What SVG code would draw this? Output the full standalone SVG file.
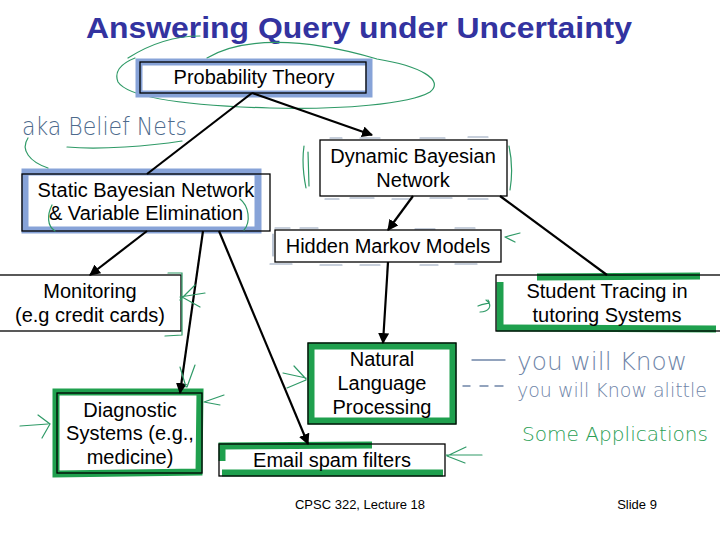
<svg xmlns="http://www.w3.org/2000/svg" width="720" height="540" viewBox="0 0 720 540">
<defs>
<marker id="ah" viewBox="0 0 10 10" refX="9" refY="5" markerWidth="5" markerHeight="5" orient="auto-start-reverse"><path d="M0,0 L10,5 L0,10 z" fill="#000"/></marker>
<style>
.box{fill:#fff;stroke:#000;stroke-width:1.3}
.t{font-family:"Liberation Sans",Arial,sans-serif;font-size:20px;fill:#000;text-anchor:middle}
.conn{stroke:#000;stroke-width:2.2;fill:none}
.blue{fill:none;stroke:#87a3d8;stroke-width:7}
.grn{fill:none;stroke:#1fa04e;stroke-width:7}
.ink{fill:none;stroke:#2f9a67;stroke-width:1.2;stroke-linecap:round}
.slate{fill:none;stroke:#6f85a8;stroke-width:1.4;stroke-linecap:round}
.dash{fill:none;stroke:#8fa0b8;stroke-width:1.2;stroke-linecap:round}
.hand{font-family:"DejaVu Sans",sans-serif;font-weight:200;font-size:24px}
.foot{font-family:"Liberation Sans",Arial,sans-serif;font-size:13px;fill:#000;text-anchor:middle}
</style>
</defs>
<rect width="720" height="540" fill="#fff"/>

<text x="359" y="38" font-family="Liberation Sans,Arial,sans-serif" font-weight="bold" font-size="30" fill="#3333a0" text-anchor="middle" textLength="546" lengthAdjust="spacingAndGlyphs">Answering Query under Uncertainty</text>

<!-- ink ellipse around Probability Theory -->
<path class="ink" d="M128,58 C150,44 175,36 200,36 M207,58 C240,38 300,36 377,59 C420,66 445,80 430,92 C410,104 340,110 270,108 C200,106 130,100 118,82 C114,72 120,64 135,58"/>

<g id="n-prob">
<rect class="blue" x="139" y="62" width="230" height="32"/>
<rect class="box" x="140" y="62" width="226" height="31" style="fill:none"/>
<text class="t" x="254" y="84">Probability Theory</text>
</g>

<g id="n-static">
<path class="blue" d="M25,172 L258,172 L258,230 L25,230 Z"/>
<rect class="box" x="22" y="174" width="248" height="57" style="fill:none"/>
<path class="ink" d="M52,205 C47,215 47,226 55,231 M240,199 C249,206 251,222 244,230"/>
<text class="t" x="146" y="197">Static Bayesian Network</text>
<text class="t" x="146" y="220">&amp; Variable Elimination</text>
</g>

<g id="n-dbn">
<path class="dash" d="M330,138 h12 M360,138 h20 M420,138 h25 M468,137 h20 M325,199 h14 M350,198 h24 M392,199 h20 M430,198 h22 M468,199 h20"/>
<path class="ink" d="M304,146 C302,160 304,178 306,188 M308,152 L309,186 M509,146 C512,160 512,178 510,190"/>
<rect class="box" x="320" y="140" width="187" height="56"/>
<text class="t" x="413" y="163">Dynamic Bayesian</text>
<text class="t" x="413" y="187">Network</text>
</g>

<g id="n-hmm">
<path class="dash" d="M275,228 h15 M300,228 h18 M415,229 h20 M455,228 h20 M270,264 h22 M320,265 h22 M360,265 h20 M420,265 h18 M455,264 h22 M273,234 v22"/>
<rect class="box" x="275" y="230" width="226" height="32"/>
<text class="t" x="388" y="253">Hidden Markov Models</text>
</g>

<g id="n-student">
<path class="grn" d="M500,282 L500,328 L716,329 M537,277 L700,276"/>
<rect class="box" x="496" y="275" width="226" height="56" style="fill:none"/>
<text class="t" x="607" y="298">Student Tracing in</text>
<text class="t" x="607" y="322">tutoring Systems</text>
</g>

<g id="n-monitor">
<rect class="box" x="-2" y="275" width="183" height="56"/>
<text class="t" x="90" y="298">Monitoring</text>
<text class="t" x="90" y="322">(e.g credit cards)</text>
</g>

<g id="n-diag">
<path class="grn" d="M56,392 L200,392 L199,472 L56,474 Z"/>
<rect class="box" x="57" y="393" width="145" height="80" style="fill:none"/>
<text class="t" x="130" y="417">Diagnostic</text>
<text class="t" x="130" y="440">Systems (e.g.,</text>
<text class="t" x="130" y="464">medicine)</text>
</g>

<g id="n-nlp">
<path class="grn" d="M311,346 L453,346 L453,421 L311,421 Z"/>
<rect class="box" x="308" y="343" width="148" height="81" style="fill:none"/>
<text class="t" x="382" y="366">Natural</text>
<text class="t" x="382" y="390">Language</text>
<text class="t" x="382" y="414">Processing</text>
</g>

<g id="n-email">
<path class="grn" d="M222,461 L222,446 L372,445 M222,473 L443,473"/>
<rect class="box" x="219" y="444" width="226" height="32" style="fill:none"/>
<text class="t" x="332" y="467">Email spam filters</text>
</g>

<g id="connectors">
<line class="conn" x1="252" y1="93" x2="147" y2="174"/>
<line class="conn" x1="252" y1="93" x2="372" y2="135" marker-end="url(#ah)"/>
<line class="conn" x1="413" y1="196" x2="388" y2="230" marker-end="url(#ah)"/>
<line class="conn" x1="500" y1="196" x2="607" y2="275"/>
<line class="conn" x1="147" y1="231" x2="90" y2="275" marker-end="url(#ah)"/>
<line class="conn" x1="203" y1="231" x2="180" y2="393" marker-end="url(#ah)"/>
<line class="conn" x1="219" y1="231" x2="308" y2="444" marker-end="url(#ah)"/>
<line class="conn" x1="388" y1="262" x2="383" y2="343" marker-end="url(#ah)"/>
</g>

<!-- handwritten annotations -->
<text class="hand" x="22" y="135" fill="#4d6a8c" textLength="165" lengthAdjust="spacingAndGlyphs">aka Belief Nets</text>
<path class="ink" d="M67,147 C100,150 150,146 182,141"/>
<path class="ink" d="M28,138 C20,150 30,162 48,168"/>

<path class="ink" d="M505,237 L520,233 M505,237 L515,242"/>
<path class="ink" d="M478,306 C486,302 492,305 488,300 M480,312 C488,312 494,306 486,300"/>
<path class="ink" d="M168,273 L182,273 L182,335 L165,336 M180,297 L205,293 M182,297 L200,307 M180,300 L195,285"/>
<path class="ink" d="M20,426 L48,424 M38,415 L50,424 L42,438"/>
<path class="ink" d="M180,367 L186,387 M195,365 L187,387 M204,402 L224,395 M204,402 L220,405"/>
<path class="ink" d="M283,373 L306,378 M287,388 L306,380 M294,366 L306,379"/>
<path class="ink" d="M446,455 L482,455 M447,456 L466,447 M447,456 L465,463"/>

<path class="slate" d="M472,360 L505,360"/>
<path class="slate" d="M463,386 L470,386 M480,386 L488,386 M495,386 L503,386"/>
<text class="hand" x="517" y="370" fill="#6f85a8" textLength="170" lengthAdjust="spacingAndGlyphs">you will Know</text>
<text class="hand" x="517" y="397" fill="#6f85a8" style="font-size:19px" textLength="190" lengthAdjust="spacingAndGlyphs">you will Know alittle</text>
<text class="hand" x="522" y="441" fill="#2a9e55" style="font-size:20px" textLength="186" lengthAdjust="spacingAndGlyphs">Some Applications</text>

<text class="foot" x="360" y="509">CPSC 322, Lecture 18</text>
<text class="foot" x="637" y="509">Slide 9</text>
</svg>
